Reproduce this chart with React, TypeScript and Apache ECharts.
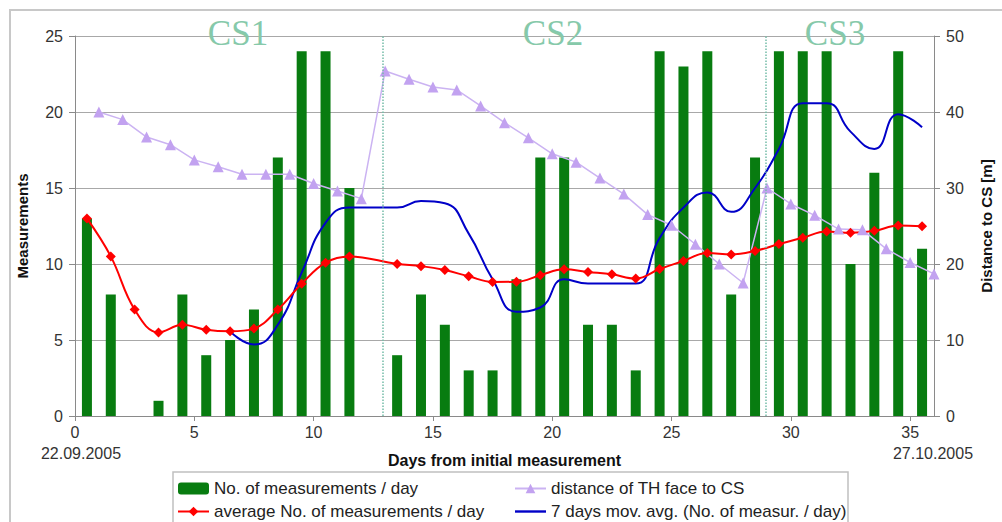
import React, { useEffect, useRef } from "react";
import * as echarts from "echarts";

// Days (bar centres) from initial measurement
const dayCenters = [
  0.5, 1.5, 2.5, 3.5, 4.5, 5.5, 6.5, 7.5, 8.5, 9.5, 10.5, 11.5, 12.5, 13.5, 14.5, 15.5, 16.5, 17.5,
  18.5, 19.5, 20.5, 21.5, 22.5, 23.5, 24.5, 25.5, 26.5, 27.5, 28.5, 29.5, 30.5, 31.5, 32.5, 33.5, 34.5, 35.5,
];
// No. of measurements / day
const measurementsPerDay = [
  13, 8, 0, 1, 8, 4, 5, 7, 17, 24, 24, 15, null, 4, 8, 6, 3, 3,
  9, 17, 17, 6, 6, 3, 24, 23, 24, 8, 17, 24, 24, 24, 10, 16, 24, 11,
];
// average No. of measurements / day
const averagePerDay = [
  13, 10.5, 7, 5.5, 6, 5.67, 5.57, 5.75, 7, 8.7, 10.09, 10.5, null, 10, 9.86, 9.6, 9.19, 8.82,
  8.83, 9.26, 9.65, 9.48, 9.32, 9.04, 9.67, 10.2, 10.73, 10.63, 10.86, 11.31, 11.73, 12.13, 12.06, 12.18, 12.53, 12.49,
];
// 7 days mov. avg.
const movingAvg7 = [
  null, null, null, null, null, null, 5.57, 4.71, 6, 9.43, 12.71, 13.71, null, 13.71, 14.14, 14, 12, 9,
  6.86, 7.14, 9, 8.71, 8.71, 8.71, 11.71, 13.71, 14.71, 13.43, 15, 17.57, 20.57, 20.57, 18.71, 17.57, 19.86, 19,
];
// distance of TH face to CS [m]
const distanceDays = [
  1, 2, 3, 4, 5, 6, 7, 8, 9, 10, 11, 12, 13, 14, 15, 16, 17, 18,
  19, 20, 21, 22, 23, 24, 25, 26, 27, 28, 29, 30, 31, 32, 33, 34, 35, 36,
];
const distanceToCS = [
  40, 39, 36.7, 35.7, 33.7, 32.8, 31.8, 31.8, 31.8, 30.6, 29.6, 28.6, 45.4, 44.3, 43.3, 42.9, 40.8, 38.6,
  36.6, 34.5, 33.4, 31.3, 29.2, 26.5, 25.1, 22.6, 20, 17.5, 30, 27.9, 26.4, 24.6, 24.5, 22, 20.2, 18.7,
];
// cross-section boundaries
const csBoundaries = [12.9, 28.95];
const csLabels = ["CS1", "CS2", "CS3"];
const dateLabels = ["22.09.2005", "27.10.2005"];

const SANS = "'Liberation Sans', Arial, Helvetica, sans-serif";
const SERIF = "'Liberation Serif', 'Times New Roman', serif";

function pairs(xs: number[], ys: (number | null)[]) {
  const out: [number, number][] = [];
  xs.forEach((x, i) => {
    const y = ys[i];
    if (y !== null && y !== undefined) out.push([x, y]);
  });
  return out;
}

export default function App() {
  const ref = useRef<HTMLDivElement>(null);

  useEffect(() => {
    document.body.style.margin = "0";
    if (!ref.current) return;
    const chart = echarts.init(ref.current, undefined, { renderer: "svg" });
    const axisGray = "#8a8a8a";
    const legendCommon = {
      top: 480,
      orient: "vertical",
      padding: 0,
      itemGap: 6,
      itemWidth: 31,
      itemHeight: 12,
      textStyle: { fontFamily: SANS, fontSize: 17, color: "#222" },
    };
    const option: any = {
      animation: false,
      backgroundColor: "#ffffff",
      grid: { left: 75, right: 56, top: 36, bottom: 106 },
      xAxis: {
        type: "value",
        min: 0,
        max: 36,
        interval: 5,
        name: "Days from initial measurement",
        nameLocation: "middle",
        nameGap: 36,
        nameTextStyle: { fontFamily: SANS, fontWeight: "bold", fontSize: 16, color: "#111" },
        axisLine: { show: true, lineStyle: { color: axisGray, width: 1 } },
        axisTick: { show: true, length: 5, lineStyle: { color: axisGray } },
        axisLabel: { fontFamily: SANS, fontSize: 16, color: "#333", margin: 8, showMaxLabel: false },
        splitLine: { show: false },
      },
      yAxis: [
        {
          type: "value",
          min: 0,
          max: 25,
          interval: 5,
          name: "Measurements",
          nameLocation: "middle",
          nameRotate: 90,
          nameGap: 45,
          nameTextStyle: { fontFamily: SANS, fontWeight: "bold", fontSize: 15, color: "#111" },
          axisLine: { show: true, lineStyle: { color: axisGray, width: 1 } },
          axisTick: { show: true, length: 6, lineStyle: { color: axisGray } },
          axisLabel: { fontFamily: SANS, fontSize: 16, color: "#333", margin: 12 },
          splitLine: { show: true, lineStyle: { color: "#a8a8a8", width: 1 } },
        },
        {
          type: "value",
          min: 0,
          max: 50,
          interval: 10,
          position: "right",
          name: "Distance to CS [m]",
          nameLocation: "middle",
          nameRotate: 90,
          nameGap: 45,
          nameTextStyle: { fontFamily: SANS, fontWeight: "bold", fontSize: 15, color: "#111" },
          axisLine: { show: true, lineStyle: { color: axisGray, width: 1 } },
          axisTick: { show: true, length: 6, lineStyle: { color: axisGray } },
          axisLabel: { fontFamily: SANS, fontSize: 16, color: "#333", margin: 12 },
          splitLine: { show: false },
        },
      ],
      legend: [
        {
          ...legendCommon,
          left: 177,
          data: ["No. of measurements / day", "average No. of measurements / day"],
        },
        {
          ...legendCommon,
          left: 514,
          data: [
            "distance of TH face to CS",
            { name: "7 days mov. avg. (No. of measur. / day)", icon: "path://M0 0H31V2.4H0Z" },
          ],
        },
      ],
      series: [
        {
          name: "No. of measurements / day",
          type: "bar",
          barWidth: 10,
          data: pairs(dayCenters, measurementsPerDay),
          itemStyle: { color: "#087c10", borderColor: "#055a0a", borderWidth: 0 },
          markLine: {
            silent: true,
            symbol: "none",
            label: { show: false },
            lineStyle: { type: "dotted", color: "#74bca8", width: 1.5 },
            data: csBoundaries.map((v) => ({ xAxis: v })),
          },
        },
        {
          name: "distance of TH face to CS",
          type: "line",
          yAxisIndex: 1,
          symbol: "triangle",
          symbolSize: 11,
          data: pairs(distanceDays, distanceToCS),
          itemStyle: { color: "#c2a2f0" },
          lineStyle: { color: "#cbb3f2", width: 1.5 },
        },
        {
          name: "7 days mov. avg. (No. of measur. / day)",
          type: "line",
          symbol: "none",
          smooth: 0.5,
          data: pairs(dayCenters, movingAvg7),
          itemStyle: { color: "#0000c8" },
          lineStyle: { color: "#0000c8", width: 2 },
        },
        {
          name: "average No. of measurements / day",
          type: "line",
          symbol: "diamond",
          symbolSize: 10,
          smooth: 0.4,
          data: pairs(dayCenters, averagePerDay),
          itemStyle: { color: "#ff0000" },
          lineStyle: { color: "#ff0000", width: 2 },
        },
      ],
      graphic: [
        {
          type: "rect",
          shape: { x: 10, y: 10, width: 1000, height: 520 },
          style: { fill: "none", stroke: "#c8c8c8", lineWidth: 2 },
          silent: true,
          z: -1,
        },
        {
          type: "rect",
          shape: { x: 173, y: 472, width: 675, height: 60 },
          style: { fill: "none", stroke: "#c0c0c0", lineWidth: 1.5 },
          silent: true,
        },
        ...csLabels.map((t, i) => ({
          type: "text",
          x: [238, 553, 835][i],
          y: 33,
          style: {
            text: t,
            fontFamily: SERIF,
            fontSize: 35,
            fill: "#86c9aa",
            align: "center",
            verticalAlign: "middle",
          },
          z: 10,
        })),
        ...dateLabels.map((t, i) => ({
          type: "text",
          x: [81, 933][i],
          y: 453,
          style: {
            text: t,
            fontFamily: SANS,
            fontSize: 16,
            fill: "#333",
            align: "center",
            verticalAlign: "middle",
          },
        })),
      ],
    };
    chart.setOption(option);
    return () => chart.dispose();
  }, []);

  return <div ref={ref} style={{ width: 1002, height: 522 }} />;
}
